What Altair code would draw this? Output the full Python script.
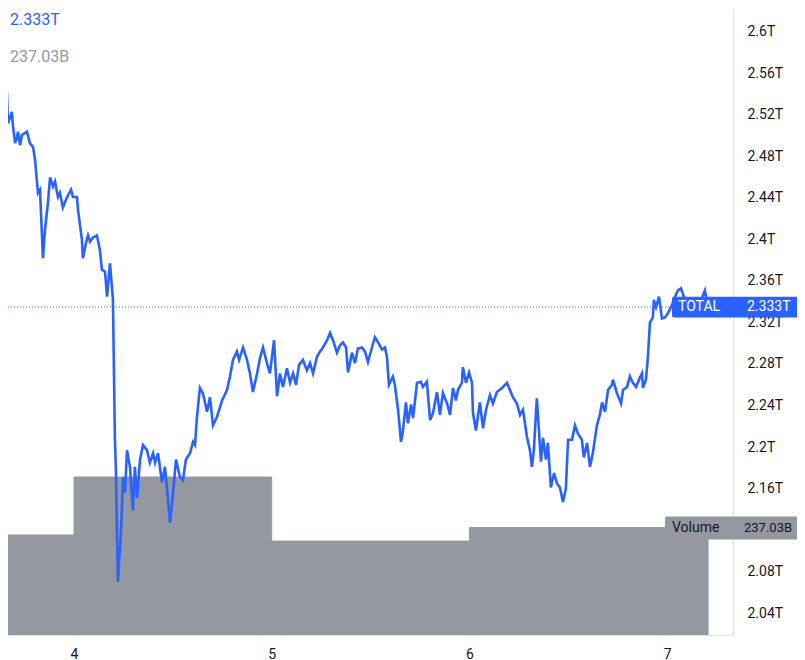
import altair as alt
import pandas as pd

# ---- data ----
times = [3.626,3.641,3.651,3.661,3.666,3.686,3.691,3.702,3.712,3.717,
         3.727,3.737,3.762,3.777,3.793,3.803,3.813,3.818,3.828,3.843,
         3.853,3.868,3.879,3.894,3.904,3.919,3.929,3.944,3.965,3.985,
         3.995,4.015,4.020,4.040,4.045,4.061,4.071,4.081,4.096,4.116,
         4.131,4.141,4.157,4.167,4.182,4.192,4.197,4.207,4.212,4.222,
         4.238,4.248,4.258,4.268,4.283,4.298,4.308,4.319,4.334,4.349,
         4.369,4.384,4.400,4.410,4.425,4.445,4.460,4.470,4.486,4.501,
         4.516,4.536,4.551,4.566,4.587,4.602,4.612,4.622,4.637,4.652,
         4.673,4.688,4.703,4.723,4.749,4.774,4.789,4.804,4.824,4.835,
         4.855,4.875,4.890,4.905,4.926,4.941,4.956,4.976,4.991,5.012,
         5.027,5.042,5.057,5.077,5.093,5.108,5.123,5.138,5.158,5.178,
         5.194,5.209,5.229,5.244,5.259,5.280,5.295,5.310,5.330,5.345,
         5.360,5.376,5.386,5.406,5.421,5.436,5.457,5.472,5.487,5.507,
         5.522,5.538,5.558,5.573,5.583,5.593,5.613,5.623,5.639,5.654,
         5.664,5.679,5.689,5.705,5.715,5.735,5.755,5.765,5.785,5.801,
         5.816,5.836,5.851,5.866,5.887,5.902,5.917,5.932,5.942,5.962,
         5.967,5.983,5.998,6.013,6.018,6.033,6.053,6.069,6.084,6.104,
         6.119,6.139,6.165,6.190,6.205,6.220,6.240,6.256,6.271,6.291,
         6.306,6.316,6.326,6.341,6.362,6.372,6.387,6.397,6.412,6.428,
         6.443,6.458,6.473,6.488,6.499,6.519,6.534,6.549,6.569,6.579,
         6.595,6.610,6.625,6.645,6.660,6.671,6.686,6.701,6.721,6.726,
         6.746,6.767,6.777,6.797,6.812,6.827,6.843,6.858,6.873,6.878,
         6.893,6.903,6.913,6.928,6.933,6.944,6.959,6.974,6.989,7.004,
         7.025,7.040,7.055,7.070,7.090,7.116,7.141,7.166,7.191,7.207]

total_cap = [2.554,2.567,2.545,2.539,2.510,2.521,2.508,2.491,2.497,2.502,
             2.489,2.499,2.502,2.491,2.487,2.475,2.453,2.443,2.446,2.380,
             2.407,2.433,2.458,2.449,2.454,2.439,2.443,2.429,2.439,2.446,
             2.439,2.439,2.427,2.398,2.380,2.395,2.402,2.396,2.400,2.402,
             2.388,2.369,2.367,2.343,2.375,2.352,2.340,2.205,2.176,2.068,
             2.118,2.169,2.154,2.195,2.179,2.137,2.179,2.149,2.186,2.200,
             2.195,2.183,2.192,2.183,2.192,2.164,2.179,2.159,2.125,2.154,
             2.186,2.169,2.166,2.186,2.192,2.203,2.200,2.227,2.255,2.250,
             2.232,2.246,2.219,2.227,2.243,2.253,2.266,2.282,2.290,2.282,
             2.294,2.282,2.269,2.251,2.269,2.284,2.294,2.279,2.269,2.301,
             2.247,2.269,2.256,2.274,2.260,2.269,2.258,2.277,2.282,2.272,
             2.279,2.269,2.285,2.290,2.294,2.301,2.308,2.301,2.289,2.296,
             2.299,2.294,2.270,2.289,2.279,2.293,2.294,2.290,2.280,2.294,
             2.304,2.299,2.292,2.294,2.285,2.258,2.266,2.258,2.234,2.203,
             2.214,2.241,2.221,2.239,2.226,2.260,2.261,2.256,2.261,2.224,
             2.231,2.251,2.229,2.250,2.240,2.229,2.255,2.243,2.253,2.260,
             2.275,2.260,2.270,2.260,2.231,2.214,2.241,2.216,2.234,2.248,
             2.240,2.251,2.255,2.260,2.253,2.246,2.240,2.229,2.234,2.208,
             2.195,2.179,2.195,2.245,2.184,2.207,2.186,2.202,2.159,2.173,
             2.163,2.159,2.145,2.158,2.205,2.205,2.219,2.211,2.205,2.188,
             2.202,2.179,2.193,2.219,2.229,2.241,2.232,2.253,2.258,2.263,
             2.250,2.240,2.253,2.256,2.266,2.260,2.256,2.263,2.269,2.255,
             2.263,2.285,2.318,2.323,2.340,2.333,2.343,2.322,2.323,2.327,
             2.335,2.343,2.349,2.351,2.340,2.335,2.340,2.337,2.349,2.333]

vol_start = [3, 4, 5, 6, 7]
vol_end = [4, 5, 6, 7, 7.207]
volume_b = [221.5, 350.0, 208.0, 238.0, 237.03]

price_ticks = [2.04, 2.08, 2.12, 2.16, 2.2, 2.24, 2.28, 2.32, 2.36, 2.4,
               2.44, 2.48, 2.52, 2.56, 2.6]
day_ticks = [4, 5, 6, 7]

last_total = [2.333]
last_total_text = ["2.333T"]
last_volume = [237.03]
last_volume_text = ["237.03B"]
series_name = ["TOTAL"]
volume_name = ["Volume"]

BLUE = "#2962FF"
GREY = "#9598A1"
DARK = "#131722"
FONT = "Roboto"

X_DOMAIN = [3.6662, 7.3333]
Y_DOMAIN = [2.01687, 2.6212]
V_DOMAIN = [0, 1389]

line_df = pd.DataFrame({"t": times, "v": total_cap})
vol_df = pd.DataFrame({"t0": vol_start, "t1": vol_end, "vol": volume_b})
last_df = pd.DataFrame({"v": last_total, "txt": last_total_text, "name": series_name})
lastvol_df = pd.DataFrame({"v": last_volume, "txt": last_volume_text, "name": volume_name})

xscale = alt.Scale(domain=X_DOMAIN, nice=False, zero=False)
yscale = alt.Scale(domain=Y_DOMAIN, nice=False, zero=False)
vscale = alt.Scale(domain=V_DOMAIN, nice=False)

xaxis = alt.Axis(values=day_ticks, format="d", title=None, grid=False, ticks=False,
                 domainColor="#E0E3EB", labelColor=DARK, labelFont=FONT,
                 labelFontSize=14, labelPadding=12)
yaxis = alt.Axis(orient="right", values=price_ticks, title=None, grid=False, ticks=False,
                 labelExpr="format(datum.value, '.2~f') + 'T'",
                 domainColor="#E0E3EB", labelColor=DARK, labelFont=FONT,
                 labelFontSize=14, labelPadding=14, labelBaseline="middle",
                 labelOffset=2)

# ---- volume layer ----
bars = alt.Chart(vol_df).mark_rect(color=GREY, stroke=GREY, strokeWidth=1, clip=True).encode(
    x=alt.X("t0:Q", scale=xscale, axis=xaxis),
    x2="t1:Q",
    y=alt.Y("vol:Q", scale=vscale, axis=None),
    y2=alt.datum(0),
)
vol_box = alt.Chart(lastvol_df).transform_calculate(
    lo="datum.v - 25.5", hi="datum.v + 25.5"
).mark_rect(color=GREY, cornerRadius=2).encode(
    x=alt.value(657), x2=alt.value(792),
    y=alt.Y("lo:Q", scale=vscale, axis=None), y2="hi:Q",
)
vol_name = alt.Chart(lastvol_df).mark_text(
    align="left", baseline="middle", font=FONT, fontSize=14, color=DARK
).encode(x=alt.value(664), y=alt.Y("v:Q", scale=vscale, axis=None), text="name:N")
vol_val = alt.Chart(lastvol_df).mark_text(
    align="left", baseline="middle", font=FONT, fontSize=13, color=DARK
).encode(x=alt.value(736), y=alt.Y("v:Q", scale=vscale, axis=None), text="txt:N")
vol_layer = alt.layer(bars, vol_box, vol_name, vol_val)

# ---- price layer ----
line = alt.Chart(line_df).mark_line(color=BLUE, strokeWidth=2.6, clip=True).encode(
    x=alt.X("t:Q", scale=xscale, axis=xaxis),
    y=alt.Y("v:Q", scale=yscale, axis=yaxis),
)
dotted = alt.Chart(last_df).mark_rule(color=BLUE, strokeWidth=1, strokeDash=[1, 2]).encode(
    x=alt.value(0), x2=alt.value(664), y=alt.Y("v:Q", scale=yscale)
)
total_box = alt.Chart(last_df).transform_calculate(
    lo="datum.v - 0.0102", hi="datum.v + 0.0100"
).mark_rect(color=BLUE, cornerRadius=2).encode(
    x=alt.value(664), x2=alt.value(792),
    y=alt.Y("lo:Q", scale=yscale), y2="hi:Q",
)
total_name = alt.Chart(last_df).mark_text(
    align="left", baseline="middle", font=FONT, fontSize=14, color="white"
).encode(x=alt.value(670), y=alt.Y("v:Q", scale=yscale), text="name:N")
total_val = alt.Chart(last_df).mark_text(
    align="left", baseline="middle", font=FONT, fontSize=14, color="white"
).encode(x=alt.value(739), y=alt.Y("v:Q", scale=yscale), text="txt:N")

head_total = alt.Chart(last_df).mark_text(
    align="left", baseline="alphabetic", font=FONT, fontSize=16, color=BLUE
).encode(x=alt.value(2), y=alt.value(17), text="txt:N")
head_vol = alt.Chart(lastvol_df).mark_text(
    align="left", baseline="alphabetic", font=FONT, fontSize=16, color=GREY
).encode(x=alt.value(2), y=alt.value(54), text="txt:N")

price_layer = alt.layer(line, dotted, total_box, total_name, total_val, head_total, head_vol)

chart = alt.layer(vol_layer, price_layer).resolve_scale(y="independent").properties(
    width=725, height=627,
    autosize=alt.AutoSizeParams(type="none"),
    padding={"left": 0, "top": 0, "right": 64, "bottom": 25},
    background="white",
).configure_view(stroke=None)

chart.save("out.html", embed_options={"renderer": "svg", "actions": False})
